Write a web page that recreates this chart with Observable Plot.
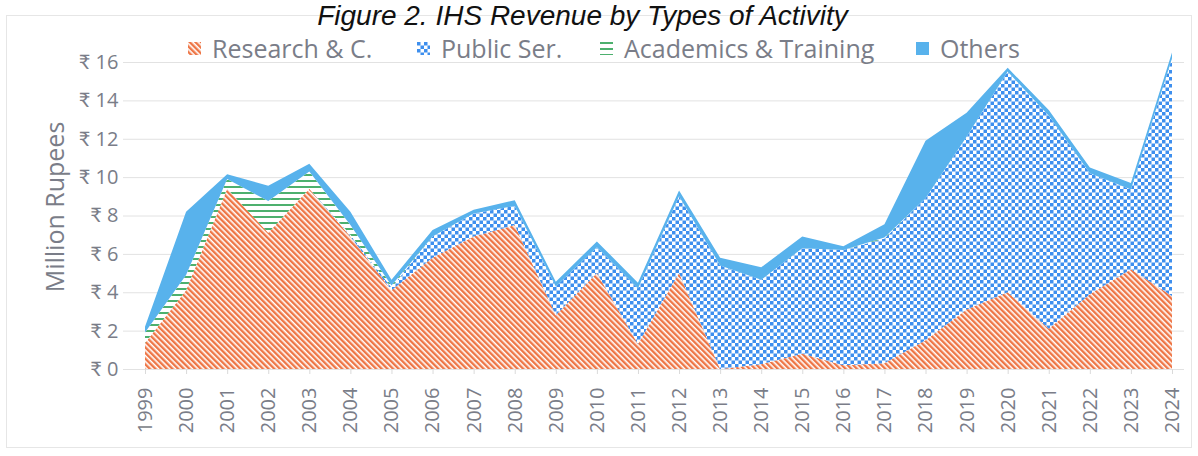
<!DOCTYPE html>
<html><head><meta charset="utf-8">
<script src="https://cdn.jsdelivr.net/npm/d3@7"></script>
<script src="https://cdn.jsdelivr.net/npm/@observablehq/plot@0.6"></script>
<style>
body{margin:0;background:#fff;}
#wrap{position:relative;width:1198px;height:456px;overflow:hidden;font-family:"Open Sans",Lato,sans-serif;}
#frame{position:absolute;left:6px;top:15px;width:1186px;height:433px;border:1px solid #e6e6e6;box-sizing:border-box;}
#title{position:absolute;left:0;width:1165px;text-align:center;top:1px;font:italic 28px "Liberation Sans",Arial,sans-serif;line-height:30px;color:#111;white-space:nowrap;}
#chart{position:absolute;left:0;top:0;}
.leg{position:absolute;top:32px;height:32px;font-size:25px;line-height:32px;color:#7a7d88;white-space:nowrap;display:flex;align-items:center;}
.leg svg{margin-right:11px;}
#ylab{position:absolute;left:54px;top:207px;transform:translate(-50%,-50%) rotate(-90deg);font-size:25px;color:#7a7d88;white-space:nowrap;}
</style></head>
<body>
<svg width="0" height="0" style="position:absolute">
 <defs>
  <pattern id="pResearch" patternUnits="userSpaceOnUse" width="4" height="4" patternTransform="rotate(-45)">
   <rect width="4" height="4" fill="#fff"/>
   <rect width="2.4" height="4" fill="#EE7646"/>
  </pattern>
  <pattern id="pPublic" patternUnits="userSpaceOnUse" width="7" height="7">
   <rect width="7" height="7" fill="#fff"/>
   <rect width="3.5" height="3.5" fill="#3E8FEE"/>
   <rect x="3.5" y="3.5" width="3.5" height="3.5" fill="#3E8FEE"/>
  </pattern>
  <pattern id="pAcad" patternUnits="userSpaceOnUse" width="6" height="6">
   <rect width="6" height="6" fill="#fff"/>
   <rect width="6" height="2" fill="#4DB06E"/>
  </pattern>
 </defs>
</svg>
<div id="wrap">
 <div id="frame"></div>
 <div id="title">Figure 2. IHS Revenue by Types of Activity</div>
 <div id="chart"></div>
 <div id="ylab">Million Rupees</div>
 <div id="legend"></div>
</div>
<script>
const years = [1999,2000,2001,2002,2003,2004,2005,2006,2007,2008,2009,2010,2011,2012,2013,2014,2015,2016,2017,2018,2019,2020,2021,2022,2023,2024];
const research  = [1.35,4.1,9.4,7.1,9.4,6.9,4.1,5.8,6.9,7.5,2.8,5.0,1.3,5.0,0,0.25,0.8,0.2,0.3,1.5,3.1,4.0,2.1,3.9,5.2,3.8];
const publicSer = [0,0,0,0,0,0.1,0.15,1.1,1.2,1.0,1.5,1.35,2.9,4.0,5.4,4.4,5.5,6.0,6.5,7.4,9.0,11.5,11.1,6.3,4.15,12.4];
const academics = [0.55,0.8,0.5,1.65,0.9,0.5,0.1,0,0,0,0,0,0,0,0,0,0,0,0.05,0,0,0,0,0,0,0];
const others    = [0.3,3.3,0.25,0.8,0.4,0.7,0.3,0.35,0.2,0.3,0.25,0.3,0.3,0.3,0.4,0.65,0.6,0.2,0.7,3.0,1.25,0.2,0.3,0.3,0.35,0.3];
const seriesNames = ["Research & C.","Public Ser.","Academics & Training","Others"];
const seriesFills = ["url(#pResearch)","url(#pPublic)","url(#pAcad)","#58B2EC"];
const yTicks = [0,2,4,6,8,10,12,14,16];
const yLabel = "Million Rupees";

const seriesArrays = [research, publicSer, academics, others];
const rows = [];
years.forEach((yr,i)=>seriesArrays.forEach((arr,k)=>rows.push({year:yr,type:seriesNames[k],value:arr[i]})));

const chart = Plot.plot({
  width:1198, height:456,
  marginLeft:145, marginRight:26, marginTop:39, marginBottom:87,
  style:{fontFamily:"'Open Sans', Lato, sans-serif", color:"#7a7d88", background:"transparent"},
  x:{type:"linear", domain:[1999,2024]},
  y:{domain:[0,17.2]},
  color:{type:"ordinal", domain:seriesNames, range:seriesFills},
  marks:[
    Plot.ruleY(yTicks,{stroke:"#e2e2e2", strokeWidth:1, insetLeft:-22, insetRight:-12}),
    Plot.areaY(rows, Plot.stackY({x:"year", y:"value", z:"type", fill:"type", curve:"linear"})),
    Plot.axisY({ticks:yTicks, tickFormat:d=>"₹ "+d, tickSize:0, tickPadding:27, fontSize:20, label:null}),
    Plot.axisX({ticks:years, tickFormat:d=>String(d), tickRotate:-90, tickSize:5, tickPadding:13, fontSize:20, stroke:"#dadada", label:null})
  ]
});
document.getElementById("chart").appendChild(chart);
document.getElementById("ylab").textContent = yLabel;

const legLeft = [188, 417, 600, 916];
const leg = document.getElementById("legend");
seriesNames.forEach((n,k)=>{
  const d = document.createElement("div");
  d.className = "leg";
  d.style.left = legLeft[k]+"px";
  d.innerHTML = `<svg width="13" height="13"><rect width="13" height="13" fill="${seriesFills[k]}"/></svg><span>${n}</span>`;
  leg.appendChild(d);
});
</script>
</body></html>
